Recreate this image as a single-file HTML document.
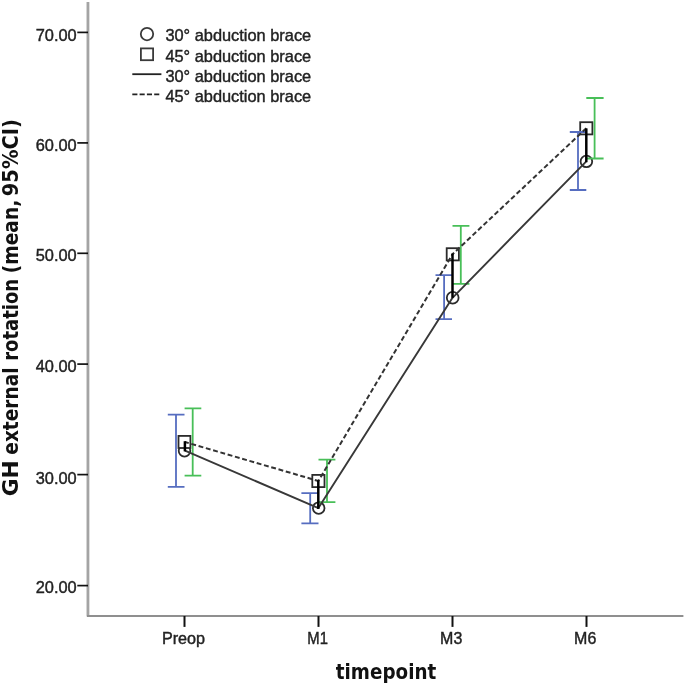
<!DOCTYPE html>
<html>
<head>
<meta charset="utf-8">
<title>GH external rotation</title>
<style>
html,body{margin:0;padding:0;background:#fff;}
body{width:685px;height:686px;overflow:hidden;}
svg{display:block;}
text{font-family:"Liberation Sans",Arial,sans-serif;fill:#222;}
.tl{font-size:16.4px;stroke:#222;stroke-width:0.42px;}
.bold{font-family:"DejaVu Sans","Liberation Sans",sans-serif;font-weight:bold;font-size:22px;fill:#111;}
</style>
</head>
<body>
<svg width="685" height="686" viewBox="0 0 685 686">
<rect width="685" height="686" fill="#fff"/>
<!-- axes -->
<g fill="none">
<line x1="87.95" y1="2" x2="87.95" y2="616.5" stroke="#a4a4a4" stroke-width="2.8"/>
<line x1="87" y1="616" x2="683.4" y2="616" stroke="#8f8f8f" stroke-width="2.1"/>
</g>
<!-- ticks -->
<g stroke="#111" stroke-width="1.7" fill="none">
<line x1="77.3" y1="32.4" x2="88" y2="32.4"/>
<line x1="77.3" y1="142.9" x2="88" y2="142.9"/>
<line x1="77.3" y1="253.3" x2="88" y2="253.3"/>
<line x1="77.3" y1="364.1" x2="88" y2="364.1"/>
<line x1="77.3" y1="474.6" x2="88" y2="474.6"/>
<line x1="77.3" y1="585.6" x2="88" y2="585.6"/>
<line x1="184.5" y1="616" x2="184.5" y2="626.9" stroke-width="2"/>
<line x1="318.5" y1="616" x2="318.5" y2="626.9" stroke-width="2"/>
<line x1="452.5" y1="616" x2="452.5" y2="626.9" stroke-width="2"/>
<line x1="586.5" y1="616" x2="586.5" y2="626.9" stroke-width="2"/>
</g>
<!-- y tick labels -->
<g class="tl" text-anchor="end">
<text x="76.7" y="40.7" textLength="41" lengthAdjust="spacingAndGlyphs">70.00</text>
<text x="76.7" y="150.5" textLength="41" lengthAdjust="spacingAndGlyphs">60.00</text>
<text x="76.7" y="261.3" textLength="41" lengthAdjust="spacingAndGlyphs">50.00</text>
<text x="76.7" y="371.5" textLength="41" lengthAdjust="spacingAndGlyphs">40.00</text>
<text x="76.7" y="483.6" textLength="41" lengthAdjust="spacingAndGlyphs">30.00</text>
<text x="76.7" y="593.4" textLength="41" lengthAdjust="spacingAndGlyphs">20.00</text>
</g>
<!-- x tick labels -->
<g class="tl" text-anchor="middle">
<text x="183.5" y="643.9" textLength="43.2" lengthAdjust="spacingAndGlyphs">Preop</text>
<text x="317.6" y="643.9" textLength="20.6" lengthAdjust="spacingAndGlyphs">M1</text>
<text x="451.2" y="643.9" textLength="22.2" lengthAdjust="spacingAndGlyphs">M3</text>
<text x="585.2" y="643.9" textLength="22.2" lengthAdjust="spacingAndGlyphs">M6</text>
</g>
<!-- axis titles -->
<text class="bold" x="335.8" y="679.3" textLength="100.5" lengthAdjust="spacingAndGlyphs">timepoint</text>
<g>
<text class="bold" transform="translate(17.9,496.3) rotate(-90)" textLength="35.9" lengthAdjust="spacingAndGlyphs">GH</text>
<text class="bold" transform="translate(17.9,454.7) rotate(-90)" textLength="87.2" lengthAdjust="spacingAndGlyphs">external</text>
<text class="bold" transform="translate(17.9,360.8) rotate(-90)" textLength="82" lengthAdjust="spacingAndGlyphs">rotation</text>
<text class="bold" transform="translate(17.9,273.2) rotate(-90)" textLength="73.4" lengthAdjust="spacingAndGlyphs">(mean,</text>
<text class="bold" transform="translate(17.9,196.2) rotate(-90)" textLength="77" lengthAdjust="spacingAndGlyphs">95%CI)</text>
</g>
<!-- legend -->
<g class="tl">
<text x="165.4" y="40.6" textLength="145.8" lengthAdjust="spacingAndGlyphs">30° abduction brace</text>
<text x="165.4" y="61.8" textLength="145.8" lengthAdjust="spacingAndGlyphs">45° abduction brace</text>
<text x="165.4" y="81.6" textLength="145.8" lengthAdjust="spacingAndGlyphs">30° abduction brace</text>
<text x="165.4" y="102.3" textLength="145.8" lengthAdjust="spacingAndGlyphs">45° abduction brace</text>
</g>
<g stroke="#3a3a3a" stroke-width="1.8" fill="none">
<circle cx="147" cy="34.1" r="6.2"/>
<rect x="140.9" y="48.4" width="12.2" height="11.8"/>
<line x1="132.3" y1="74.2" x2="161.4" y2="74.2" stroke="#222"/>
<line x1="132.3" y1="94.4" x2="161.4" y2="94.4" stroke="#222" stroke-dasharray="5.1 2.2"/>
</g>
<!-- markers -->
<g stroke="#2b2b2b" stroke-width="1.8" fill="#fff">
<circle cx="184.5" cy="450.8" r="5.8"/>
<circle cx="318.7" cy="508.1" r="5.8"/>
<circle cx="452.7" cy="297.8" r="5.9"/>
<circle cx="586.4" cy="161.4" r="5.8"/>
<rect x="178.5" y="435.9" width="11.9" height="12.1"/>
<rect x="312.3" y="474.9" width="12.2" height="12.2"/>
<rect x="446.7" y="248.2" width="12.2" height="12.2"/>
<rect x="580.2" y="122.2" width="12.2" height="12.2"/>
</g>
<!-- error bars blue -->
<g stroke="#566dc0" stroke-width="1.8" fill="none">
<path d="M176 414.7V486.9M167.8 414.7H184.5M167.8 486.9H184.5"/>
<path d="M310.2 493.2V523.4M301.4 493.2H318.5M301.4 523.4H318.5"/>
<path d="M444.1 275.1V319.2M435.5 275.1H452M435.5 319.2H452"/>
<path d="M578 132V190M569.8 132H586.3M569.8 190H586.3"/>
</g>
<!-- error bars green -->
<g stroke="#48bf58" stroke-width="1.8" fill="none">
<path d="M192.7 408.4V475.6M184.6 408.4H201.3M184.6 475.6H201.3"/>
<path d="M327 459.7V502.2M318.5 459.7H335.4M318.5 502.2H335.4"/>
<path d="M460.8 225.8V283.9M452.5 225.8H469.4M452.5 283.9H469.4"/>
<path d="M594.6 98V158.5M586.3 98H603.6M586.3 158.5H603.6"/>
</g>
<!-- lines -->
<g stroke="#383838" stroke-width="1.9" fill="none" stroke-linejoin="round">
<polyline points="185,450.6 318.4,508.1 452.5,297.8 586.3,161.4"/>
<g stroke-dasharray="4.9 2.67" stroke-width="2" stroke="#333">
<line x1="185" y1="442" x2="318.4" y2="481" stroke-dashoffset="1"/>
<line x1="318.4" y1="481" x2="452.5" y2="254.3" stroke-dashoffset="3.2"/>
<line x1="452.5" y1="254.3" x2="586.3" y2="128.2" stroke-dashoffset="2.7"/>
</g>
</g>
<g stroke="#000" stroke-width="2.5" fill="none">
<line x1="184.9" y1="441.2" x2="184.9" y2="451.4"/>
<line x1="318.3" y1="480.2" x2="318.3" y2="508.9"/>
<line x1="452.5" y1="253.5" x2="452.5" y2="297.8"/>
<line x1="586.3" y1="128.4" x2="586.3" y2="162.2"/>
</g>
</svg>
</body>
</html>
